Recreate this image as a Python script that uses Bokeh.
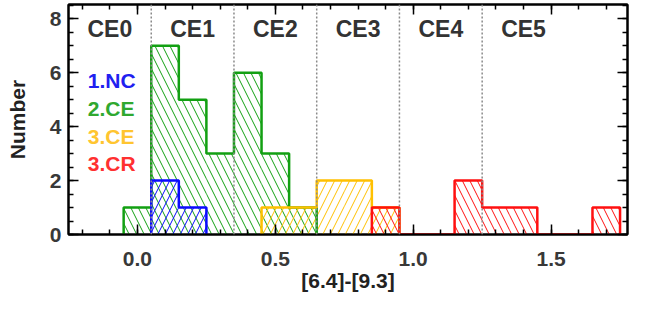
import numpy as np
from bokeh.plotting import figure
from bokeh.models import (Range1d, LinearAxis, SingleIntervalTicker, FixedTicker,
                          PrintfTickFormatter, Span, CustomLabelingPolicy)
from bokeh.core.properties import value
from bokeh.embed import file_html
from bokeh.resources import INLINE

# ---- data ----
bins = [-0.1, 0.0, 0.1, 0.2, 0.3, 0.4, 0.5, 0.6, 0.7, 0.8, 0.9,
        1.0, 1.1, 1.2, 1.3, 1.4, 1.5, 1.6, 1.7, 1.8]
nc_counts  = [0, 0, 2, 1, 0, 0, 0, 0, 0, 0, 0, 0, 0, 0, 0, 0, 0, 0, 0, 0]
ce_counts  = [0, 1, 7, 5, 3, 6, 3, 1, 0, 0, 0, 0, 0, 0, 0, 0, 0, 0, 0, 0]
ce3_counts = [0, 0, 0, 0, 0, 0, 1, 1, 2, 2, 1, 0, 0, 0, 0, 0, 0, 0, 0, 0]
cr_counts  = [0, 0, 0, 0, 0, 0, 0, 0, 0, 0, 1, 0, 0, 2, 1, 1, 0, 0, 1, 0]
bin_width = 0.1
class_bounds = [0.05, 0.35, 0.65, 0.95, 1.25]
class_names = ["CE0", "CE1", "CE2", "CE3", "CE4", "CE5"]
legend_names = ["1.NC", "2.CE", "3.CE", "3.CR"]
x_ticks_interval = 0.5
y_tick_values = [0, 2, 4, 6, 8]

FONT = "Liberation Sans"
C_NC, C_CE, C_CE3, C_CR = "#0a0aff", "#12a012", "#ffc000", "#ff1010"
T_NC, T_CE, T_CE3, T_CR = "#2020f0", "#30a830", "#ffc530", "#ff3030"
X0, X1, Y0, Y1 = -0.25, 1.777, 0, 8.53

p = figure(width=631, height=294, output_backend="svg", toolbar_location=None,
           x_range=Range1d(X0, X1), y_range=Range1d(Y0, Y1),
           min_border_left=68, min_border_right=2, min_border_top=0, min_border_bottom=0)
p.xgrid.visible = False
p.ygrid.visible = False
p.outline_line_color = "black"
p.outline_line_width = 2
p.background_fill_color = "white"
p.border_fill_color = "white"

def edges(counts):
    c = np.array(counts)
    b = np.array(bins)
    return b - bin_width / 2, b + bin_width / 2, c

def hatch(counts, color, pattern):
    l, r, c = edges(counts)
    m = c > 0
    p.quad(left=l[m], right=r[m], bottom=0, top=c[m], fill_alpha=0,
           hatch_pattern=pattern, hatch_color=color, hatch_scale=15,
           hatch_weight=1, line_color=None)

def step(counts, color):
    l, r, c = edges(counts)
    nz = np.nonzero(c)[0]
    i0, i1 = nz[0], nz[-1]
    xs, ys = [l[i0]], [0]
    for i in range(i0, i1 + 1):
        xs += [l[i], r[i]]
        ys += [c[i], c[i]]
    xs.append(r[i1]); ys.append(0)
    p.line(xs, ys, line_color=color, line_width=2.5)

hatch(ce_counts, C_CE, "\\")
hatch(nc_counts, C_NC, "/")
hatch(ce3_counts, C_CE3, "/")
hatch(cr_counts, C_CR, "\\")
step(ce_counts, C_CE)
step(ce3_counts, C_CE3)
step(cr_counts, C_CR)
step(nc_counts, C_NC)

for b in class_bounds:
    p.add_layout(Span(location=b, dimension="height", line_color="#8a8a8a",
                      line_dash="2 2", line_width=1.5))

centers = [class_bounds[0] - 0.15] + [b + 0.15 for b in class_bounds]
p.text(x=centers, y=[7.62] * len(centers), text=class_names,
       text_font=value(FONT), text_font_style="bold", text_font_size="23px",
       text_color="#333333", text_align="center", text_baseline="middle")

p.text(x=[-0.18] * 4, y=[5.71, 4.68, 3.65, 2.62], text=legend_names,
       text_color=[T_NC, T_CE, T_CE3, T_CR],
       text_font=value(FONT), text_font_style="bold", text_font_size="21px",
       text_align="left", text_baseline="middle")

y_minor = list(np.arange(Y0, Y1, 0.5))
xt = SingleIntervalTicker(interval=x_ticks_interval, num_minor_ticks=5)
yt = FixedTicker(ticks=y_tick_values, minor_ticks=y_minor)

def style(ax, ticker, labels=True):
    ax.ticker = ticker
    ax.axis_line_width = 2
    ax.axis_line_color = "black"
    ax.major_tick_in = 10
    ax.major_tick_out = 0
    ax.minor_tick_in = 5
    ax.minor_tick_out = 0
    ax.major_tick_line_width = 1.5
    ax.minor_tick_line_width = 1.5
    if labels:
        ax.major_label_text_font = FONT
        ax.major_label_text_font_style = "bold"
        ax.major_label_text_font_size = "21px"
        ax.major_label_text_color = "#383838"
        ax.axis_label_text_font = FONT
        ax.axis_label_text_font_style = "bold"
        ax.axis_label_text_font_size = "21px"
        ax.axis_label_text_color = "#222222"
    else:
        ax.major_label_text_font_size = "1px"
        ax.major_label_standoff = 0
        ax.major_label_policy = CustomLabelingPolicy(
            code="for (const i of indices) { if (i < 0) { yield i } }")

style(p.xaxis[0], xt)
p.xaxis[0].formatter = PrintfTickFormatter(format="%.1f")
p.xaxis[0].axis_label = "[6.4]-[9.3]"
p.xaxis[0].major_label_standoff = 17
p.xaxis[0].axis_label_standoff = 0
style(p.yaxis[0], yt)
p.yaxis[0].axis_label = "Number"
p.yaxis[0].major_label_standoff = 7
p.yaxis[0].axis_label_standoff = 18

top = LinearAxis()
style(top, SingleIntervalTicker(interval=x_ticks_interval, num_minor_ticks=5), labels=False)
p.add_layout(top, "above")
right = LinearAxis()
style(right, FixedTicker(ticks=y_tick_values, minor_ticks=y_minor), labels=False)
p.add_layout(right, "right")

open("out.html", "w").write(file_html(p, INLINE))
